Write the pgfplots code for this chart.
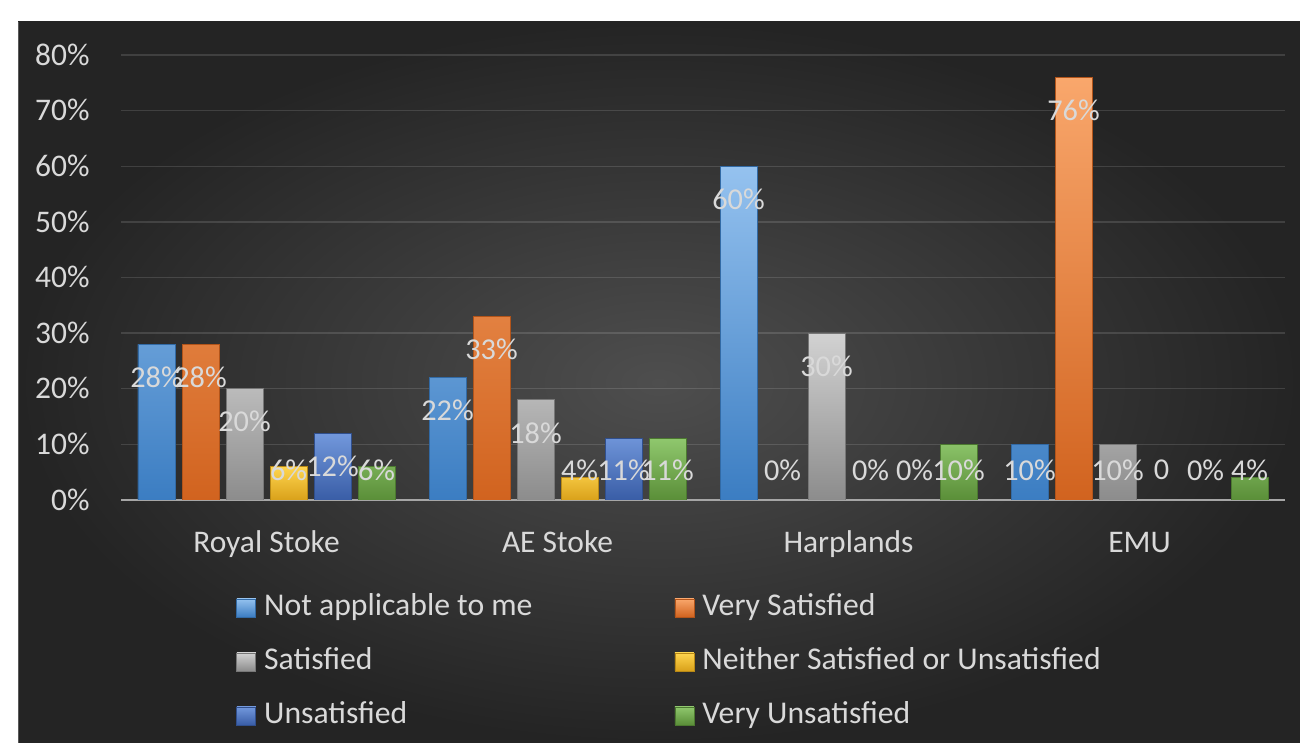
\documentclass[border=0pt]{standalone}
\usepackage{fontspec}
\setmainfont{Carlito}
\usepackage{pgfplots}
\pgfplotsset{compat=1.18}
\definecolor{txt}{HTML}{D9D9D9}
\definecolor{bgin}{HTML}{4E4E4E}
\definecolor{bgout}{HTML}{242424}
\definecolor{axc}{HTML}{A6A6A6}
\definecolor{aT}{HTML}{95C2EF}\definecolor{aB}{HTML}{3B7DC2}
\definecolor{bT}{HTML}{F9A76C}\definecolor{bB}{HTML}{D1631F}
\definecolor{cT}{HTML}{D2D2D2}\definecolor{cB}{HTML}{8C8C8C}
\definecolor{dT}{HTML}{FFD54F}\definecolor{dB}{HTML}{D9A11A}
\definecolor{eT}{HTML}{7298DC}\definecolor{eB}{HTML}{395DA6}
\definecolor{fT}{HTML}{8FC76D}\definecolor{fB}{HTML}{5A8E38}
\pgfplotsset{
  mybar/.style args={#1/#2}{fill=#2, top color=#1, bottom color=#2, draw=#2!85!black, line width=0.4bp,
    legend image code/.code={\draw[top color=#1, bottom color=#2, draw=#2!85!black, line width=0.4bp] (0bp,-4.5bp) rectangle (9.5bp,4.5bp);}},
}
\begin{document}
\begin{tikzpicture}
\useasboundingbox (0,0) rectangle (650bp,371.5bp);
\fill[white] (0,0) rectangle (650bp,371.5bp);
\shade[inner color=bgin, outer color=bgout] (9bp,0) rectangle (650bp,360.5bp);
\draw[gray!70!black, line width=0.5bp] (9bp,0) -- (9bp,360.5bp);
\begin{axis}[
  at={(60.5bp,121.5bp)}, anchor=south west,
  scale only axis, width=582bp, height=222.5bp,
  xmin=-0.5, xmax=3.5, ymin=0, ymax=80,
  ybar=3.5bp, bar width=18.5bp,
  xtick={0,1,2,3}, xticklabels={Royal Stoke, AE Stoke, Harplands, EMU},
  ytick={0,10,...,80},
  yticklabel={\pgfmathprintnumber{\tick}\%},
  /pgf/number format/assume math mode=true,
  tick label style={font=\fontsize{15.8}{19}\selectfont, text=txt, inner sep=0pt},
  xticklabel style={anchor=base, yshift=-26bp},
  yticklabel style={anchor=base east, xshift=-15.5bp, yshift=-5.1bp},
  major tick length=0pt,
  axis x line*=bottom, axis y line*=left,
  y axis line style={draw=none},
  x axis line style={draw=axc, line width=1bp},
  ymajorgrids,
  major grid style={draw=white, opacity=0.13, line width=0.7bp},
  point meta=explicit symbolic,
  nodes near coords,
  visualization depends on={rawy \as \ry},
  every node near coord/.append style={anchor=center, inner sep=0pt, text=txt,
     font=\fontsize{15.2}{18}\selectfont,
     yshift={max(\ry*2.7917-16.562,15.056)-\ry*2.7917}},
  legend columns=2,
  legend cell align=left,
  legend style={at={(rel axis cs:0,0)}, anchor=north west, xshift=57.5bp, yshift=-46.5bp,
     draw=none, fill=none, inner sep=0pt, font=\fontsize{15.9}{19}\selectfont, text=txt,
     nodes={inner sep=0pt, text height=11bp, text depth=3.5bp},
     /tikz/every even column/.append style={column sep=71bp},
     /tikz/every odd column/.append style={column sep=4bp},
     row sep=12.5bp},
]
\addplot[mybar=aT/aB] coordinates {(0,28) [28\%] (1,22) [22\%] (2,60) [60\%] (3,10) [10\%]};
\addplot[mybar=bT/bB] coordinates {(0,28) [28\%] (1,33) [33\%] (2,0) [0\%] (3,76) [76\%]};
\addplot[mybar=cT/cB] coordinates {(0,20) [20\%] (1,18) [18\%] (2,30) [30\%] (3,10) [10\%]};
\addplot[mybar=dT/dB] coordinates {(0,6) [6\%] (1,4) [4\%] (2,0) [0\%] (3,0) [0]};
\addplot[mybar=eT/eB] coordinates {(0,12) [12\%] (1,11) [11\%] (2,0) [0\%] (3,0) [0\%]};
\addplot[mybar=fT/fB] coordinates {(0,6) [6\%] (1,11) [11\%] (2,10) [10\%] (3,4) [4\%]};
\legend{Not applicable to me, Very Satisfied, Satisfied, Neither Satisfied or Unsatisfied, Unsatisfied, Very Unsatisfied}
\end{axis}
\end{tikzpicture}
\end{document}
